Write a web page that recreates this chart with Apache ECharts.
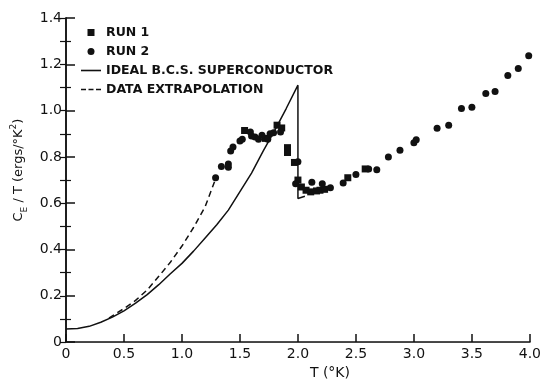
<!DOCTYPE html>
<html>
<head>
<meta charset="utf-8">
<script src="https://cdn.jsdelivr.net/npm/echarts@6/dist/echarts.min.js"></script>
<style>
  html, body { margin: 0; padding: 0; background: #fff; }
  #main { width: 544px; height: 385px; }
</style>
</head>
<body>
<div id="main"></div>
<script>
// tick labels
var xTickLabels = ['0', '0.5', '1.0', '1.5', '2.0', '2.5', '3.0', '3.5', '4.0'];
var yTickLabels = ['0', '0.2', '0.4', '0.6', '0.8', '1.0', '1.2', '1.4'];

// RUN 1 (squares)
var run1 = [
  [1.54, 0.914], [1.72, 0.88], [1.82, 0.937], [1.86, 0.925], [1.91, 0.84], [1.91, 0.819],
  [1.97, 0.776], [2.0, 0.70], [2.03, 0.67], [2.07, 0.656], [2.11, 0.649], [2.16, 0.653],
  [2.19, 0.656], [2.23, 0.66], [2.43, 0.71], [2.58, 0.748]
];

// RUN 2 (circles)
var run2 = [
  [1.29, 0.71], [1.34, 0.758], [1.40, 0.769], [1.40, 0.755], [1.42, 0.826], [1.44, 0.843],
  [1.50, 0.869], [1.52, 0.876], [1.59, 0.908], [1.60, 0.89], [1.63, 0.886], [1.66, 0.876],
  [1.69, 0.894], [1.74, 0.876], [1.76, 0.90], [1.79, 0.904], [1.85, 0.908], [2.0, 0.779],
  [1.98, 0.684], [2.12, 0.691], [2.21, 0.684], [2.28, 0.667], [2.39, 0.687], [2.50, 0.724],
  [2.61, 0.748], [2.68, 0.745], [2.78, 0.80], [2.88, 0.829], [3.0, 0.861], [3.02, 0.874],
  [3.2, 0.924], [3.3, 0.937], [3.41, 1.009], [3.5, 1.014], [3.62, 1.074], [3.7, 1.082],
  [3.81, 1.152], [3.9, 1.182], [3.99, 1.237]
];

// ideal BCS superconductor
var bcs = [
  [0, 0.057], [0.1, 0.059], [0.2, 0.068], [0.3, 0.086], [0.4, 0.108], [0.5, 0.135],
  [0.6, 0.168], [0.7, 0.205], [0.8, 0.248], [0.9, 0.295], [1.0, 0.34], [1.1, 0.393],
  [1.2, 0.45], [1.3, 0.507], [1.4, 0.57], [1.5, 0.65], [1.6, 0.73], [1.7, 0.825],
  [1.8, 0.915], [1.9, 1.01], [2.0, 1.11], [2.0, 0.62], [2.06, 0.63]
];

// data extrapolation
var extrap = [
  [0.37, 0.104], [0.5, 0.145], [0.6, 0.18], [0.7, 0.225], [0.8, 0.284], [0.9, 0.345],
  [1.0, 0.415], [1.1, 0.495], [1.2, 0.585], [1.29, 0.705]
];

var ink = '#111';
var font = 'DejaVu Sans';

var chart = echarts.init(document.getElementById('main'));
var option = {
  animation: false,
  backgroundColor: '#fff',
  grid: { left: 66, right: 10, top: 18, bottom: 37 },
  legend: {
    orient: 'vertical',
    left: 81,
    top: 26,
    padding: 0,
    itemWidth: 20,
    itemHeight: 7,
    itemGap: 6,
    selectedMode: false,
    textStyle: { fontFamily: font, fontSize: 12.5, fontWeight: 'bold', color: ink },
    data: [
      { name: 'RUN 1', icon: 'path://M0,0H1V1H0Z' },
      { name: 'RUN 2', icon: 'circle' },
      { name: 'IDEAL B.C.S. SUPERCONDUCTOR', icon: 'path://M0,0H20V1.6H0Z' },
      { name: 'DATA EXTRAPOLATION', icon: 'path://M0,0H5V1.6H0Z M7.5,0H12.5V1.6H7.5Z M15,0H20V1.6H15Z' }
    ]
  },
  xAxis: [{
    type: 'value',
    min: 0, max: 4, interval: 0.5,
    name: 'T (°K)',
    nameLocation: 'middle',
    nameGap: 22,
    nameTextStyle: { fontFamily: font, fontSize: 14, color: ink, padding: [0, 0, 0, 64] },
    axisLine: { show: true, lineStyle: { color: ink, width: 1.5 } },
    axisTick: { show: true, inside: true, length: 8, lineStyle: { color: ink, width: 1.5 } },
    axisLabel: {
      margin: 5, fontFamily: font, fontSize: 14, color: ink,
      formatter: function (v) { return xTickLabels[Math.round(v / 0.5)]; }
    },
    splitLine: { show: false }
  }, {
    type: 'value', position: 'top',
    min: 0, max: 4,
    axisLine: { show: true, lineStyle: { color: '#444', width: 1 } },
    axisTick: { show: false }, axisLabel: { show: false }, splitLine: { show: false }
  }],
  yAxis: [{
    type: 'value',
    min: 0, max: 1.4, interval: 0.2,
    name: '{a|C}{s|E}{a| / T (ergs/°K}{p|2}{a|)}',
    nameLocation: 'middle',
    nameGap: 35,
    nameTextStyle: {
      padding: [0, 0, 0, 20],
      rich: {
        a: { fontFamily: font, fontSize: 13, color: ink, lineHeight: 20 },
        s: { fontFamily: font, fontSize: 9, color: ink, verticalAlign: 'bottom', lineHeight: 20 },
        p: { fontFamily: font, fontSize: 9, color: ink, verticalAlign: 'top', lineHeight: 20 }
      }
    },
    axisLine: { show: true, lineStyle: { color: ink, width: 1.5 } },
    axisTick: { show: true, inside: true, length: 9, lineStyle: { color: ink, width: 1.5 } },
    minorTick: { show: true, splitNumber: 2, length: 5, lineStyle: { color: ink, width: 1.2 } },
    axisLabel: {
      margin: 4, fontFamily: font, fontSize: 14, color: ink,
      formatter: function (v) { return yTickLabels[Math.round(v / 0.2)]; }
    },
    splitLine: { show: false }
  }, {
    type: 'value', position: 'right',
    min: 0, max: 1.4, interval: 0.1,
    axisLine: { show: true, lineStyle: { color: ink, width: 1.5 } },
    axisTick: { show: true, inside: true, length: 6, lineStyle: { color: ink, width: 1.2 } },
    axisLabel: { show: false }, splitLine: { show: false }
  }],
  series: [{
    name: 'RUN 1',
    type: 'scatter',
    symbol: 'rect',
    symbolSize: 7,
    itemStyle: { color: ink, opacity: 1 },
    data: run1
  }, {
    name: 'RUN 2',
    type: 'scatter',
    symbol: 'circle',
    symbolSize: 7,
    itemStyle: { color: ink, opacity: 1 },
    data: run2
  }, {
    name: 'IDEAL B.C.S. SUPERCONDUCTOR',
    type: 'line',
    symbol: 'none',
    lineStyle: { color: ink, width: 1.5 },
    itemStyle: { color: ink },
    data: bcs
  }, {
    name: 'DATA EXTRAPOLATION',
    type: 'line',
    symbol: 'none',
    lineStyle: { color: ink, width: 1.5, type: [6, 4] },
    itemStyle: { color: ink },
    data: extrap
  }]
};
chart.setOption(option);
</script>
</body>
</html>
